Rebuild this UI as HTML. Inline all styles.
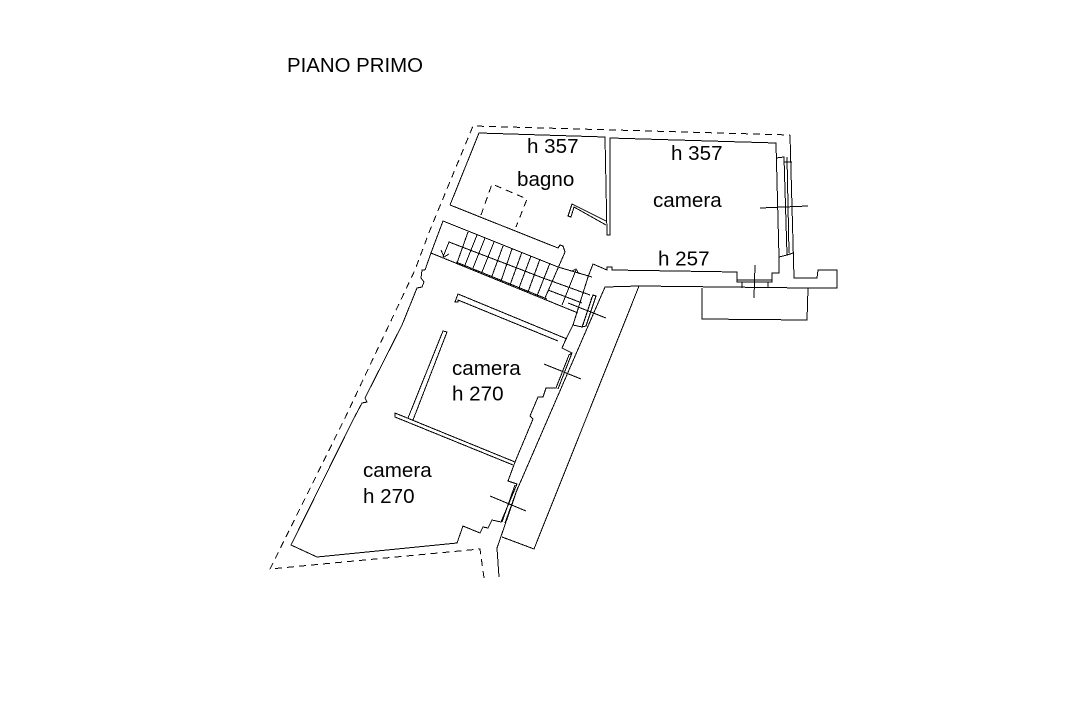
<!DOCTYPE html>
<html>
<head>
<meta charset="utf-8">
<style>
html,body{margin:0;padding:0;background:#fff;width:1074px;height:727px;overflow:hidden}
svg{display:block}
text{font-family:"Liberation Sans",sans-serif;font-size:20.6px;fill:#000}
.l{fill:none;stroke:#000;stroke-width:1;stroke-linejoin:miter;shape-rendering:crispEdges}
.d{fill:none;stroke:#000;stroke-width:1;stroke-dasharray:7 5;shape-rendering:crispEdges}
</style>
</head>
<body>
<svg width="1074" height="727" viewBox="0 0 1074 727" xmlns="http://www.w3.org/2000/svg">
<rect width="1074" height="727" fill="#fff"/>

<!-- dashed boundary -->
<polyline class="d" points="484,578 480,549 270,569 345,418 415,270 430,230 473,126 790,135"/>
<polyline class="d" points="481,215 492,184 527,199 516,227"/>

<!-- main outer walls -->
<polyline class="l" points="450,205 479,133 605,137 607,235 610,235 610,138 776,143 779,257 779,273 772,273 772,282 737,282 737,272 675,271 612,270 612,267 607,267 607,270 593,264 588,277"/>
<polyline class="l" points="450,205 558,248 560,245 563,246 565,252 545,298"/>

<!-- bagno small wall -->
<polyline class="l" points="606,221 572,204 568,216 571,217 574,207 606,225"/>

<!-- right side -->
<polyline class="l" points="790,135 794,278 817,278 818,270 837,270 837,288 808,288 639,286 605,287 517,490 497,548 499,577"/>
<polyline class="l" points="639,286 534,549 502,537"/>
<polyline class="l" points="702,288 702,319 807,320 808,288"/>

<!-- camera east window -->
<polyline class="l" points="776,158 784,157 784,162 792,162"/>
<polyline class="l" points="779,257 787,255 793,253"/>
<line class="l" x1="784" y1="157" x2="787" y2="255"/>
<line class="l" x1="787" y1="157" x2="789" y2="253"/>
<line class="l" x1="760" y1="208" x2="808" y2="206"/>

<!-- south window -->
<line class="l" x1="737" y1="280" x2="772" y2="280"/>
<line class="l" x1="742" y1="282" x2="742" y2="288"/>
<line class="l" x1="768" y1="282" x2="768" y2="288"/>
<line class="l" x1="755" y1="265" x2="754" y2="298"/>

<!-- stairs -->
<polyline class="l" points="425,270 431,253 443,221 558,267 592,277"/>
<line class="l" x1="431" y1="253" x2="578" y2="313"/>
<line class="l" x1="456" y1="262" x2="547" y2="299"/>
<polyline class="l" points="443,257 449,242 543,278 590,295"/>
<polyline class="l" points="441,250 444,257 449,254"/>
<line class="l" x1="468" y1="232" x2="457" y2="263"/>
<line class="l" x1="477" y1="235" x2="465" y2="265"/>
<line class="l" x1="485" y1="238" x2="473" y2="268"/>
<line class="l" x1="494" y1="242" x2="482" y2="272"/>
<line class="l" x1="503" y1="246" x2="492" y2="276"/>
<line class="l" x1="512" y1="249" x2="501" y2="281"/>
<line class="l" x1="522" y1="252" x2="510" y2="285"/>
<line class="l" x1="531" y1="256" x2="519" y2="288"/>
<line class="l" x1="540" y1="259" x2="528" y2="292"/>
<line class="l" x1="550" y1="263" x2="537" y2="296"/>
<line class="l" x1="548" y1="290" x2="582" y2="303"/>
<line class="l" x1="576" y1="270" x2="562" y2="305"/>
<polyline class="l" points="572,271 576,269 579,274"/>

<!-- window 1 -->
<polyline class="l" points="588,277 573,325 582,327 593,295 596,296 586,326 582,327"/>
<line class="l" x1="592" y1="297" x2="583" y2="325"/>
<line class="l" x1="568" y1="303" x2="606" y2="318"/>

<!-- central corridor wall -->
<polyline class="l" points="573,325 566,339 562,348 572,353 569,355 556,388 546,388 543,397 538,397 530,416 533,419 515,462 508,481 517,484 501,522 492,520 488,528 483,527 480,533 463,526 457,543 317,557 291,545 353,420 362,403 367,402 365,398 402,325 417,288 422,287 424,282 421,278 422,270 425,270"/>

<!-- window 2 -->
<line class="l" x1="572" y1="353" x2="558" y2="389"/>
<line class="l" x1="569" y1="355" x2="556" y2="388"/>
<line class="l" x1="544" y1="364" x2="581" y2="379"/>

<!-- window 3 -->
<line class="l" x1="515" y1="485" x2="502" y2="522"/>
<line class="l" x1="518" y1="487" x2="505" y2="523"/>
<line class="l" x1="490" y1="496" x2="526" y2="511"/>

<!-- interior walls -->
<polyline class="l" points="567,339 458,294 455,302 458,302 458,300 558,341"/>
<polyline class="l" points="413,420 447,332 443,331 408,418"/>
<polyline class="l" points="515,462 395,413 395,417 513,465"/>

<!-- labels -->
<text x="287" y="72" style="font-size:20.4px">PIANO PRIMO</text>
<text x="527" y="153">h 357</text>
<text x="517" y="186">bagno</text>
<text x="671" y="160">h 357</text>
<text x="653" y="207">camera</text>
<text x="658" y="265.5">h 257</text>
<text x="452" y="375">camera</text>
<text x="452" y="400.5">h 270</text>
<text x="363" y="477">camera</text>
<text x="363" y="503">h 270</text>
</svg>
</body>
</html>
